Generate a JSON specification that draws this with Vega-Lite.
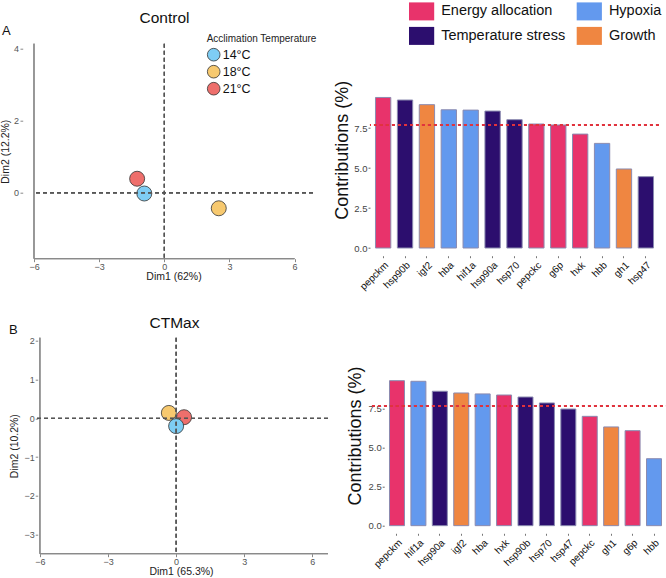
{
  "$schema": "https://vega.github.io/schema/vega-lite/v6.json",
  "padding": {"left": 0, "top": 1.7, "right": 0, "bottom": 0},
  "background": "white",
  "datasets": {
    "pcaControl": [
      {"temp": "18°C", "Dim1": 2.51, "Dim2": -0.43},
      {"temp": "21°C", "Dim1": -1.25, "Dim2": 0.39},
      {"temp": "14°C", "Dim1": -0.92, "Dim2": -0.02}
    ],
    "pcaCTMax": [
      {"temp": "18°C", "Dim1": -0.32, "Dim2": 0.14},
      {"temp": "21°C", "Dim1": 0.35, "Dim2": 0.03},
      {"temp": "14°C", "Dim1": 0.0, "Dim2": -0.2}
    ],
    "contribControl": [
      {"gene": "pepckm", "contrib": 9.41, "category": "Energy allocation"},
      {"gene": "hsp90b", "contrib": 9.25, "category": "Temperature stress"},
      {"gene": "igf2", "contrib": 8.96, "category": "Growth"},
      {"gene": "hba", "contrib": 8.64, "category": "Hypoxia"},
      {"gene": "hif1a", "contrib": 8.62, "category": "Hypoxia"},
      {"gene": "hsp90a", "contrib": 8.56, "category": "Temperature stress"},
      {"gene": "hsp70", "contrib": 8.02, "category": "Temperature stress"},
      {"gene": "pepckc", "contrib": 7.75, "category": "Energy allocation"},
      {"gene": "g6p", "contrib": 7.69, "category": "Energy allocation"},
      {"gene": "hxk", "contrib": 7.12, "category": "Energy allocation"},
      {"gene": "hbb", "contrib": 6.54, "category": "Hypoxia"},
      {"gene": "gh1", "contrib": 4.94, "category": "Growth"},
      {"gene": "hsp47", "contrib": 4.46, "category": "Temperature stress"}
    ],
    "contribCTMax": [
      {"gene": "pepckm", "contrib": 9.31, "category": "Energy allocation"},
      {"gene": "hif1a", "contrib": 9.27, "category": "Hypoxia"},
      {"gene": "hsp90a", "contrib": 8.63, "category": "Temperature stress"},
      {"gene": "igf2", "contrib": 8.52, "category": "Growth"},
      {"gene": "hba", "contrib": 8.46, "category": "Hypoxia"},
      {"gene": "hxk", "contrib": 8.39, "category": "Energy allocation"},
      {"gene": "hsp90b", "contrib": 8.26, "category": "Temperature stress"},
      {"gene": "hsp70", "contrib": 7.88, "category": "Temperature stress"},
      {"gene": "hsp47", "contrib": 7.49, "category": "Temperature stress"},
      {"gene": "pepckc", "contrib": 7.02, "category": "Energy allocation"},
      {"gene": "gh1", "contrib": 6.34, "category": "Growth"},
      {"gene": "g6p", "contrib": 6.10, "category": "Energy allocation"},
      {"gene": "hbb", "contrib": 4.30, "category": "Hypoxia"}
    ]
  },
  "columns": 2,
  "align": "each",
  "bounds": "flush",
  "spacing": {"row": 79, "column": 42},
  "resolve": {"scale": {"color": "independent", "fill": "independent"}},
  "concat": [
    {
      "width": 279,
      "height": 215,
      "data": {"name": "pcaControl"},
      "resolve": {"axis": {"x": "independent", "y": "independent"}},
      "layer": [
        {
          "mark": {"type": "rule", "color": "#8a8a8a", "strokeWidth": 1},
          "encoding": {"x": {"datum": -6, "type": "quantitative", "axis": null}}
        },
        {
          "mark": {"type": "rule", "color": "#8a8a8a", "strokeWidth": 1},
          "encoding": {
            "y": {"datum": -1.83, "type": "quantitative", "axis": null},
            "x": {"datum": -6, "type": "quantitative", "axis": null},
            "x2": {"datum": 6}
          }
        },
        {
          "mark": {"type": "circle", "size": 225, "stroke": "#333333", "strokeWidth": 0.8, "opacity": 1},
          "encoding": {
            "x": {
              "field": "Dim1", "type": "quantitative",
              "scale": {"domain": [-6, 6.85], "nice": false, "zero": false},
              "axis": {"orient": "bottom", "values": [-6, -3, 0, 3, 6], "title": "Dim1 (62%)", "domain": false, "tickSize": 3, "tickColor": "#888888", "labelFontSize": 9, "labelColor": "#555555", "labelPadding": 0.5, "labelFlush": false, "titleFontSize": 10.5, "titleColor": "#222222", "titlePadding": 0}
            },
            "y": {
              "field": "Dim2", "type": "quantitative",
              "scale": {"domain": [-1.83, 4.14], "nice": false, "zero": false},
              "axis": {"orient": "left", "values": [0, 2, 4], "title": "Dim2 (12.2%)", "domain": false, "offset": 11.3, "tickSize": 2.7, "tickColor": "#888888", "labelFontSize": 9, "labelColor": "#555555", "labelPadding": 1.5, "titleFontSize": 10.5, "titleColor": "#222222", "titlePadding": 3}
            },
            "fill": {
              "field": "temp", "type": "nominal",
              "scale": {"domain": ["14°C", "18°C", "21°C"], "range": ["#7ECDF4", "#F7C96F", "#EE6F6C"]},
              "legend": {"orient": "none", "legendX": 172.7, "legendY": -10, "title": "Acclimation Temperature", "titleFontSize": 10, "titleFontWeight": "normal", "titleColor": "#222222", "titlePadding": 4, "symbolType": "circle", "symbolSize": 160, "symbolStrokeColor": "#333333", "symbolStrokeWidth": 0.8, "symbolOpacity": 1, "labelFontSize": 12.5, "labelColor": "#111111", "labelOffset": 2, "rowPadding": 1, "padding": 0}
            }
          }
        },
        {
          "mark": {"type": "rule", "color": "#555555", "strokeWidth": 1.2, "strokeDash": [4, 3]},
          "encoding": {
            "y": {"datum": 0, "type": "quantitative", "axis": {"orient": "right", "labels": false, "ticks": false, "domain": false, "title": "A", "titleFontSize": 13, "titleFontWeight": "normal", "titleColor": "#111111", "titleX": -311.5, "titleY": -13, "titleAlign": "left", "titleBaseline": "middle", "titleAngle": 0}}
          }
        },
        {
          "mark": {"type": "rule", "color": "#555555", "strokeWidth": 1.2, "strokeDash": [4, 3]},
          "encoding": {
            "x": {"datum": 0, "type": "quantitative", "axis": {"orient": "top", "labels": false, "ticks": false, "domain": false, "title": "Control", "titleFontSize": 15.5, "titleFontWeight": "normal", "titleColor": "#111111", "titleX": 130, "titleY": -26.3, "titleAlign": "center", "titleBaseline": "middle", "titleAngle": 0}}
          }
        }
      ]
    },
    {
      "width": 289,
      "height": 212,
      "data": {"name": "contribControl"},
      "layer": [
        {
          "mark": {"type": "bar", "stroke": "#8b8bb0", "strokeWidth": 1},
          "encoding": {
            "x": {
              "field": "gene", "type": "nominal", "sort": null,
              "scale": {"paddingInner": 0.3, "paddingOuter": 0.25},
              "axis": {"title": null, "labelAngle": -45, "labelAlign": "right", "labelBaseline": "top", "labelFontSize": 10, "labelColor": "#111111", "tickSize": 2, "tickColor": "#777777", "domain": false, "labelPadding": 2}
            },
            "y": {
              "field": "contrib", "type": "quantitative",
              "scale": {"domain": [-0.48, 12.77], "nice": false, "zero": false},
              "axis": {"values": [0, 2.5, 5, 7.5], "format": ".1f", "title": "Contributions (%)", "domain": false, "tickSize": 2, "tickColor": "#666666", "labelFontSize": 9.5, "labelColor": "#444444", "labelPadding": 1, "titleFontSize": 18, "titleColor": "#111111", "titlePadding": 2}
            },
            "color": {
              "field": "category", "type": "nominal",
              "scale": {"domain": ["Energy allocation", "Hypoxia", "Temperature stress", "Growth"], "range": ["#E8336B", "#6399EE", "#2C0E6E", "#EF8641"]},
              "legend": {"orient": "none", "direction": "horizontal", "legendX": 42.6, "legendY": -41.3, "columns": 2, "title": null, "symbolType": "M-1.4,-1L1.4,-1L1.4,1L-1.4,1Z", "symbolSize": 324, "symbolStrokeWidth": 0, "symbolOpacity": 1, "labelFontSize": 14.5, "labelColor": "#111111", "labelOffset": 10.6, "columnPadding": 10.7, "rowPadding": 6.5, "padding": 0}
            }
          }
        },
        {
          "mark": {"type": "rule", "color": "#E0343F", "strokeWidth": 1, "strokeDash": [3, 3]},
          "encoding": {"y": {"datum": 7.69, "type": "quantitative"}}
        }
      ]
    },
    {
      "width": 294,
      "height": 216,
      "data": {"name": "pcaCTMax"},
      "resolve": {"axis": {"x": "independent", "y": "independent"}},
      "layer": [
        {
          "mark": {"type": "rule", "color": "#8a8a8a", "strokeWidth": 1},
          "encoding": {"x": {"datum": -6, "type": "quantitative", "axis": null}}
        },
        {
          "mark": {"type": "rule", "color": "#8a8a8a", "strokeWidth": 1},
          "encoding": {
            "y": {"datum": -3.49, "type": "quantitative", "axis": null},
            "x": {"datum": -6, "type": "quantitative", "axis": null},
            "x2": {"datum": 6.69}
          }
        },
        {
          "mark": {"type": "circle", "size": 225, "stroke": "#333333", "strokeWidth": 0.8, "opacity": 1},
          "encoding": {
            "x": {
              "field": "Dim1", "type": "quantitative",
              "scale": {"domain": [-6.26, 6.69], "nice": false, "zero": false},
              "axis": {"orient": "bottom", "values": [-6, -3, 0, 3, 6], "title": "Dim1 (65.3%)", "domain": false, "tickSize": 3, "tickColor": "#888888", "labelFontSize": 9, "labelColor": "#555555", "labelPadding": 0.5, "labelFlush": false, "titleFontSize": 10.5, "titleColor": "#222222", "titlePadding": 0}
            },
            "y": {
              "field": "Dim2", "type": "quantitative",
              "scale": {"domain": [-3.49, 2.08], "nice": false, "zero": false},
              "axis": {"orient": "left", "values": [-3, -2, -1, 0, 1, 2], "title": "Dim2 (10.2%)", "domain": false, "offset": -3.7, "tickSize": 2.5, "tickColor": "#888888", "labelFontSize": 9, "labelColor": "#555555", "labelPadding": 1, "titleFontSize": 10.5, "titleColor": "#222222", "titlePadding": 4}
            },
            "fill": {
              "field": "temp", "type": "nominal",
              "scale": {"domain": ["14°C", "18°C", "21°C"], "range": ["#7ECDF4", "#F7C96F", "#EE6F6C"]},
              "legend": null
            }
          }
        },
        {
          "mark": {"type": "rule", "color": "#555555", "strokeWidth": 1.2, "strokeDash": [4, 3]},
          "encoding": {
            "y": {"datum": 0, "type": "quantitative", "axis": {"orient": "right", "labels": false, "ticks": false, "domain": false, "title": "B", "titleFontSize": 13, "titleFontWeight": "normal", "titleColor": "#111111", "titleX": -319.6, "titleY": -7.7, "titleAlign": "left", "titleBaseline": "middle", "titleAngle": 0}}
          }
        },
        {
          "mark": {"type": "rule", "color": "#555555", "strokeWidth": 1.2, "strokeDash": [4, 3]},
          "encoding": {
            "x": {"datum": 0, "type": "quantitative", "axis": {"orient": "top", "labels": false, "ticks": false, "domain": false, "title": "CTMax", "titleFontSize": 15.5, "titleFontWeight": "normal", "titleColor": "#111111", "titleX": 140, "titleY": -15.3, "titleAlign": "center", "titleBaseline": "middle", "titleAngle": 0}}
          }
        }
      ]
    },
    {
      "width": 311,
      "height": 195.6,
      "data": {"name": "contribCTMax"},
      "layer": [
        {
          "mark": {"type": "bar", "stroke": "#8b8bb0", "strokeWidth": 1},
          "encoding": {
            "x": {
              "field": "gene", "type": "nominal", "sort": null,
              "scale": {"paddingInner": 0.3, "paddingOuter": 0.91},
              "axis": {"title": null, "labelAngle": -45, "labelAlign": "right", "labelBaseline": "top", "labelFontSize": 10, "labelColor": "#111111", "tickSize": 2, "tickColor": "#777777", "domain": false, "labelPadding": 2}
            },
            "y": {
              "field": "contrib", "type": "quantitative",
              "scale": {"domain": [-0.49, 12.07], "nice": false, "zero": false},
              "axis": {"values": [0, 2.5, 5, 7.5], "format": ".1f", "title": "Contributions (%)", "domain": false, "offset": -14.2, "tickSize": 2, "tickColor": "#666666", "labelFontSize": 9.5, "labelColor": "#444444", "labelPadding": 1, "titleFontSize": 18, "titleColor": "#111111", "titlePadding": 3}
            },
            "color": {
              "field": "category", "type": "nominal",
              "scale": {"domain": ["Energy allocation", "Hypoxia", "Temperature stress", "Growth"], "range": ["#E8336B", "#6399EE", "#2C0E6E", "#EF8641"]},
              "legend": null
            }
          }
        },
        {
          "mark": {"type": "rule", "color": "#E0343F", "strokeWidth": 1, "strokeDash": [3, 3]},
          "encoding": {"y": {"datum": 7.69, "type": "quantitative"}}
        }
      ]
    }
  ],
  "config": {
    "font": "Liberation Sans",
    "view": {"stroke": null},
    "axis": {"grid": false, "labelFont": "Liberation Sans", "titleFont": "Liberation Sans", "titleFontWeight": "normal"},
    "legend": {"labelFont": "Liberation Sans", "titleFont": "Liberation Sans"}
  }
}
